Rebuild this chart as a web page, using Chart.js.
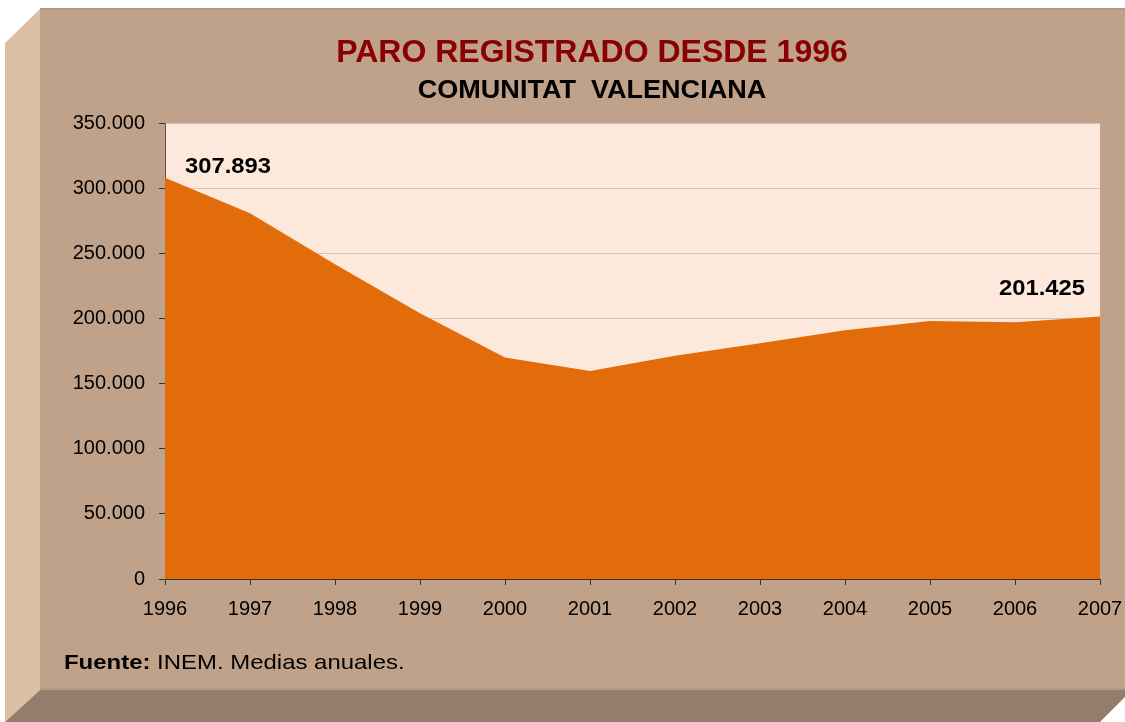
<!DOCTYPE html>
<html>
<head>
<meta charset="utf-8">
<script src="https://cdn.jsdelivr.net/npm/chart.js@4.4.0/dist/chart.umd.min.js"></script>
<style>
  html, body { margin: 0; padding: 0; background: #fff; }
  #wrap { width: 1125px; height: 722px; position: relative; }
</style>
</head>
<body>
<div id="wrap"><canvas id="paro" width="1125" height="722"></canvas></div>
<script>
// Data
const years = ['1996', '1997', '1998', '1999', '2000', '2001', '2002', '2003', '2004', '2005', '2006', '2007'];
const paro = [307893, 280700, 241500, 204000, 170100, 159600, 171400, 181000, 191000, 198000, 197000, 201425];
const yTicks = [0, 50000, 100000, 150000, 200000, 250000, 300000, 350000];
const titleText = 'PARO REGISTRADO DESDE 1996';
const subtitleText = 'COMUNITAT  VALENCIANA';
const sourceBold = 'Fuente:';
const sourceText = ' INEM. Medias anuales.';

const FONT = '"Liberation Sans", Arial, sans-serif';

function fmt(v) {
  return String(Math.round(v)).replace(/\B(?=(\d{3})+(?!\d))/g, '.');
}

// text slightly stretched sideways, like the original export
function stretchText(ctx, txt, x, y, sx) {
  ctx.save();
  ctx.translate(x, y);
  ctx.scale(sx, 1);
  ctx.fillText(txt, 0, 0);
  ctx.restore();
}

// Box frame + plot background, drawn behind the chart
const framePlugin = {
  id: 'frame',
  beforeDraw(chart) {
    const ctx = chart.ctx;
    const a = chart.chartArea;
    ctx.save();
    // left side face
    ctx.fillStyle = '#dcbfa3';
    ctx.beginPath();
    ctx.moveTo(40, 9); ctx.lineTo(5, 43); ctx.lineTo(5, 722); ctx.lineTo(40, 690);
    ctx.closePath(); ctx.fill();
    // bottom face
    ctx.fillStyle = '#937e6d';
    ctx.beginPath();
    ctx.moveTo(40, 690); ctx.lineTo(1125, 690); ctx.lineTo(1125, 697); ctx.lineTo(1100, 722); ctx.lineTo(5, 722);
    ctx.closePath(); ctx.fill();
    // front face
    ctx.fillStyle = '#c0a28a';
    ctx.fillRect(40, 9, 1085, 681);
    ctx.fillStyle = '#b39580';
    ctx.fillRect(40, 8, 1085, 2);
    ctx.fillStyle = '#b39a85';
    ctx.fillRect(40, 688, 1085, 2);
    // plot area
    ctx.fillStyle = '#fce9db';
    ctx.fillRect(a.left, a.top, a.right - a.left, a.bottom - a.top);
    ctx.restore();
  },
  afterDraw(chart) {
    const ctx = chart.ctx;
    ctx.save();
    ctx.textBaseline = 'alphabetic';
    ctx.textAlign = 'center';
    ctx.fillStyle = '#880000';
    ctx.font = 'bold 32px ' + FONT;
    ctx.fillText(titleText, 592, 61.5);
    ctx.fillStyle = '#000';
    ctx.font = 'bold 26px ' + FONT;
    stretchText(ctx, subtitleText, 592, 97.5, 1.04);

    // source note
    ctx.textAlign = 'left';
    const sx = 1.14;
    ctx.font = 'bold 21px ' + FONT;
    stretchText(ctx, sourceBold, 64, 668.5, sx);
    const w = ctx.measureText(sourceBold).width * sx;
    ctx.font = '21px ' + FONT;
    stretchText(ctx, sourceText, 64 + w, 668.5, sx);

    // value labels on first and last point
    const meta = chart.getDatasetMeta(0);
    const first = meta.data[0];
    const last = meta.data[meta.data.length - 1];
    ctx.font = 'bold 22px ' + FONT;
    ctx.textAlign = 'left';
    stretchText(ctx, fmt(paro[0]), first.x + 20, first.y - 4.5, 1.08);
    ctx.textAlign = 'right';
    stretchText(ctx, fmt(paro[paro.length - 1]), last.x - 15, last.y - 22, 1.08);
    ctx.restore();
  }
};

new Chart(document.getElementById('paro'), {
  type: 'line',
  data: {
    labels: years,
    datasets: [{
      data: paro,
      borderWidth: 0,
      borderColor: 'rgba(0,0,0,0)',
      backgroundColor: '#e36c0a',
      fill: 'origin',
      tension: 0,
      pointRadius: 0,
      pointHoverRadius: 0
    }]
  },
  options: {
    responsive: false,
    animation: false,
    layout: { padding: { top: 123, right: 25, left: 0, bottom: 0 } },
    plugins: {
      legend: { display: false },
      tooltip: { enabled: false }
    },
    scales: {
      x: {
        offset: false,
        afterFit: s => { s.height = 143; s.paddingLeft = 0; s.paddingRight = 0; },
        grid: { drawOnChartArea: false, tickLength: 6, tickColor: '#333', color: '#333' },
        border: { color: '#333', width: 1 },
        ticks: { color: '#000', font: { family: FONT, size: 20 }, padding: 12, maxRotation: 0, autoSkip: false }
      },
      y: {
        min: 0,
        max: 350000,
        afterFit: s => { s.width = 165; },
        afterBuildTicks: s => { s.ticks = yTicks.map(v => ({ value: v })); },
        grid: { color: '#c8c8c8', tickLength: 6, tickColor: '#333', lineWidth: 1 },
        border: { color: '#555', width: 1 },
        ticks: {
          color: '#000',
          font: { family: FONT, size: 20 },
          padding: 14,
          callback: v => fmt(v)
        }
      }
    }
  },
  plugins: [framePlugin]
});
</script>
</body>
</html>
